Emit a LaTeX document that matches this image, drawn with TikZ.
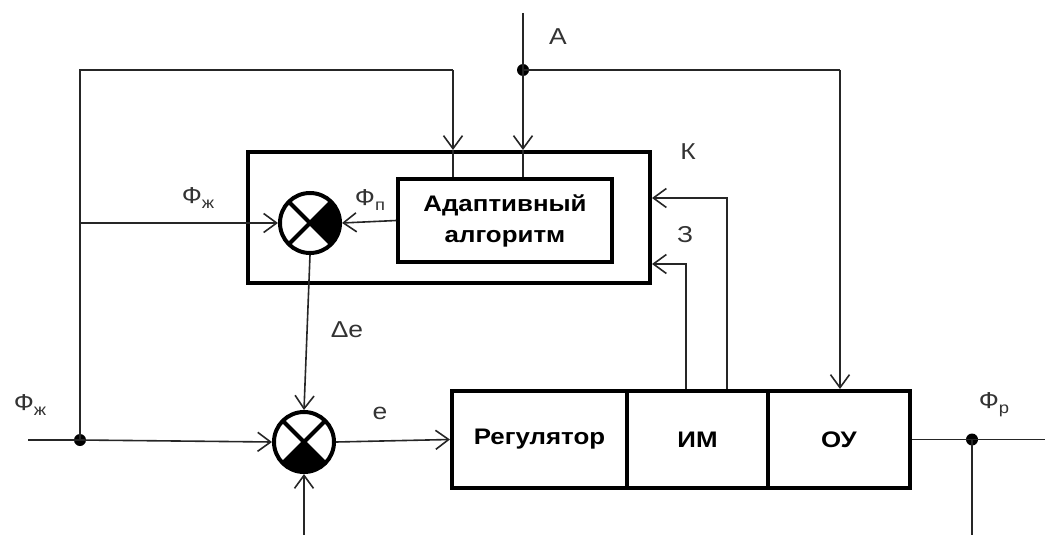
\documentclass[tikz,border=0pt]{standalone}
\usepackage{fontspec}
\setmainfont{Liberation Sans}[FakeStretch=1.15]
\usetikzlibrary{arrows.meta,calc}
\tikzset{
 ln/.style={line width=1.6pt, draw=black!85},
 arr/.style={ln, -{Straight Barb[length=13pt,width=19pt,line width=1.6pt]}},
 blk/.style={draw, line width=4pt, font=\fontsize{22.5}{31}\selectfont\bfseries, align=center, inner sep=0pt},
 summbase/.style={circle, draw, line width=4pt, minimum size=60pt, inner sep=0pt},
 summR/.style={summbase, path picture={
   \fill (path picture bounding box.center) -- (path picture bounding box.north east) -- (path picture bounding box.south east) -- cycle;
   \draw[line width=4pt] (path picture bounding box.north west) -- (path picture bounding box.south east)
     (path picture bounding box.south west) -- (path picture bounding box.north east);}},
 summB/.style={summbase, path picture={
   \fill (path picture bounding box.center) -- (path picture bounding box.south east) -- (path picture bounding box.south west) -- cycle;
   \draw[line width=4pt] (path picture bounding box.north west) -- (path picture bounding box.south east)
     (path picture bounding box.south west) -- (path picture bounding box.north east);}},
 dot/.style={circle, fill=black, inner sep=0pt, minimum size=12pt},
 lbl/.style={font=\fontsize{23}{23}\selectfont, text=black!80, inner sep=0pt},
}
\newcommand{\sub}[1]{\raisebox{-5pt}{\fontsize{16}{16}\selectfont #1}}
\begin{document}
\begin{tikzpicture}[x=1pt,y=-1pt]
\useasboundingbox (0,0) rectangle (1045,535);
% blocks
\node[blk, minimum width=402pt, minimum height=131pt] (outer) at (449,217.5) {};
\node[blk, line width=3.5pt, minimum width=214pt, minimum height=83pt] (inner) at (505,220.5) {Адаптивный\\алгоритм};
\node[blk, minimum width=175pt, minimum height=97pt] (reg) at (539.5,439.5) {Регулятор};
\node[blk, minimum width=141pt, minimum height=97pt] (im) at (697.5,439.5) {ИМ};
\node[blk, minimum width=142pt, minimum height=97pt] (ou) at (839,439.5) {ОУ};
% summers
\node[summR] (s1) at (310,223) {};
\node[summB] (s2) at (304,442) {};
% dots and free ends
\node[dot] (dL) at (80,440) {};
\node[dot] (dA) at (523,70) {};
\node[dot] (dR) at (972,439.5) {};
\coordinate (inL) at (28,440);
\coordinate (Atop) at (523,13);
\coordinate (c1) at (453,70);
\coordinate (c2) at (840,70);
\coordinate (bin) at (304,535);
\coordinate (oend) at (1045,439.5);
\coordinate (rdown) at (972,535);
% connectors
\draw[ln] (inL) -- (dL.center);
\draw[arr] (dL.center) -- (s2.west);
\draw[ln] (dL.center) |- (c1);
\draw[arr] (c1) -- (c1 |- outer.north);
\draw[ln] (c1 |- outer.north) -- (c1 |- inner.north);
\draw[arr] (dL.center |- s1.west) -- (s1.west);
\draw[ln] (Atop) -- (dA.center);
\draw[arr] (dA.center) -- (dA.center |- outer.north);
\draw[ln] (dA.center |- outer.north) -- (dA.center |- inner.north);
\draw[ln] (dA.center) -- (c2);
\draw[arr] (c2) -- (c2 |- ou.north);
\draw[arr] (inner.west) -- (s1.east);
\draw[arr] (s1.south) -- (s2.north);
\draw[arr] (bin) -- (s2.south);
\draw[arr] (s2.east) -- (reg.west);
\draw[arr] ($(im.north west)+(61,0)$) |- ($(outer.south east)+(0,-21)$);
\draw[arr] ($(im.north west)+(102,0)$) |- ($(outer.south east)+(0,-87)$);
\draw[ln] (ou.east) -- (oend);
\draw[ln] (dR.center) -- (rdown);
% labels
\node[lbl] (lA) at (558,37) {А};
\node[lbl] (lK) at (688,152) {К};
\node[lbl] (lZ) at (685,235) {З};
\node[lbl] (lFz1) at (198,198) {Ф\sub{ж}};
\node[lbl] (lFp) at (370,200) {Ф\sub{п}};
\node[lbl] (lDe) at (347,330) {Δe};
\node[lbl] (lFz2) at (30,405) {Ф\sub{ж}};
\node[lbl] (le) at (380,413) {e};
\node[lbl] (lFr) at (994,405) {Ф\sub{р}};
\end{tikzpicture}
\end{document}
